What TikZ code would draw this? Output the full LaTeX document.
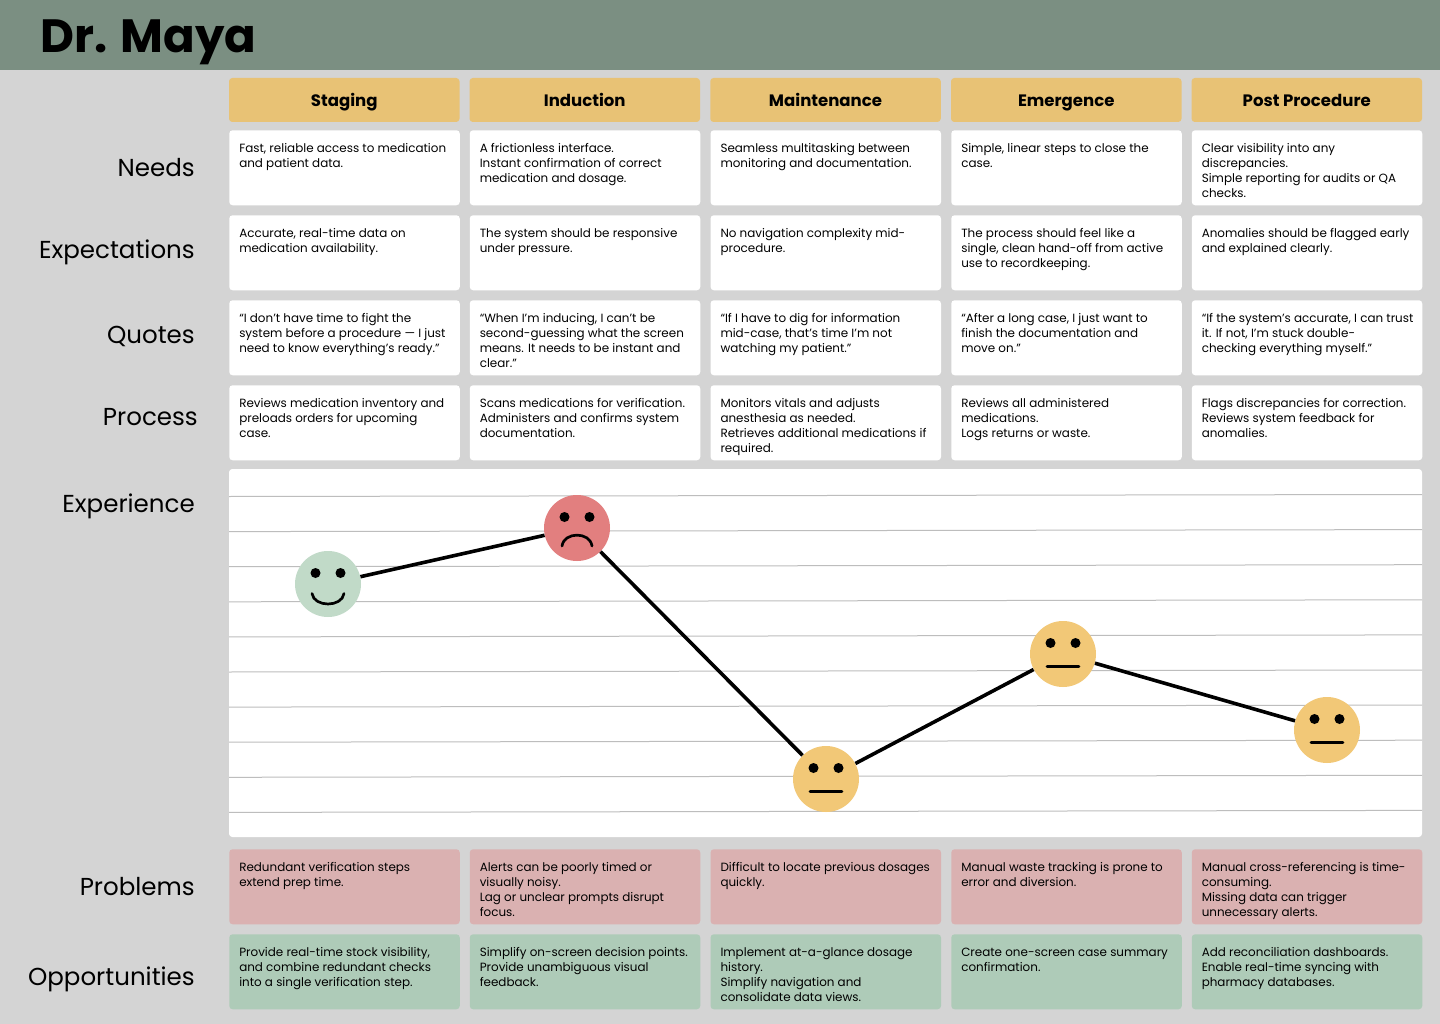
\documentclass[tikz,border=0pt]{standalone}
\usepackage{fontspec}
\setmainfont{Poppins}
\usetikzlibrary{positioning}
\definecolor{cPage}   {HTML}{D4D4D4}
\definecolor{cBand}   {HTML}{7B8F82}
\definecolor{cPhase}  {HTML}{E8C275}
\definecolor{cProblem}{HTML}{DAB1B1}
\definecolor{cChance} {HTML}{AECBB8}
\definecolor{cGrid}   {HTML}{BDBDBD}
\definecolor{cHappy}  {HTML}{C1DAC8}
\definecolor{cSad}    {HTML}{E27F7F}
\definecolor{cFlat}   {HTML}{F2C877}
\newcommand{\celltext}[1]{\begin{minipage}[c][56.25pt][t]{172.875pt}\raggedright\leftskip=7.5pt\rule{0pt}{16.5pt}#1\end{minipage}}
\tikzset{
  phase/.style={fill=cPhase, rounded corners=2.5pt, inner sep=0pt, minimum width=172.875pt,
                minimum height=33pt, font=\fontsize{12.4}{14}\selectfont\bfseries,
                text height=12pt, text depth=2.5pt},
  cell/.style={fill=white, rounded corners=2.5pt, inner sep=0pt, anchor=north west,
               font=\fontsize{8.95}{11.25}\selectfont},
  problem/.style={cell, fill=cProblem},
  chance/.style={cell, fill=cChance},
  rowlabel/.style={anchor=base east, inner sep=0pt, font=\fontsize{18.4}{22}\selectfont},
  face/.style={circle, minimum size=49.5pt, inner sep=0pt},
  eye/.style={fill=black},
  mouth/.style={draw=black, line width=2pt, line cap=round},
  walk/.style={draw=black, line width=2.7pt},
}
\newcommand{\faceeyes}[1]{%
  \fill[eye] (#1.center) ++(-12.5,-11) circle[radius=3.75pt];
  \fill[eye] (#1.center) ++(12.5,-11) circle[radius=3.75pt];}
\newcommand{\faceflat}[1]{%
  \faceeyes{#1}
  \draw[mouth] (#1.center) ++(-16,12.5) -- ++(32,0);}
\begin{document}
\begin{tikzpicture}[x=0.75pt, y=-0.75pt]
  \useasboundingbox (0,0) rectangle (1440,1024);
  \fill[cPage] (0,0) rectangle (1440,1024);
  \fill[cBand] (0,0) rectangle (1440,70);
  \node[anchor=base west, inner sep=0pt, font=\fontsize{35}{40}\selectfont\bfseries] (title) at (40,53) {Dr. Maya};

  % phases
  \node[phase] (phStaging)  at (344.25,100)  {Staging};
  \node[phase] (phInduct)   at (584.75,100)  {Induction};
  \node[phase] (phMaint)    at (825.5,100)   {Maintenance};
  \node[phase] (phEmerge)   at (1066.25,100) {Emergence};
  \node[phase] (phPost)     at (1306.75,100) {Post Procedure};

  % row labels
  \node[rowlabel] (lbNeeds)   at (195,176) {Needs};
  \node[rowlabel] (lbExpect)  at (195,258) {Expectations};
  \node[rowlabel] (lbQuotes)  at (195,343) {Quotes};
  \node[rowlabel] (lbProcess) at (198,425) {Process};
  \node[rowlabel] (lbExper)   at (195,512) {Experience};
  \node[rowlabel] (lbProblem) at (195,895) {Problems};
  \node[rowlabel] (lbChance)  at (195,985) {Opportunities};

  % needs
  \node[cell] (needStaging) at (229,130) {\celltext{Fast, reliable access to medication\\and patient data.}};
  \node[cell] (needInduct)  at (469.5,130) {\celltext{A frictionless interface.\\Instant confirmation of correct\\medication and dosage.}};
  \node[cell] (needMaint)   at (710.25,130) {\celltext{Seamless multitasking between\\monitoring and documentation.}};
  \node[cell] (needEmerge)  at (951,130) {\celltext{Simple, linear steps to close the\\case.}};
  \node[cell] (needPost)    at (1191.5,130) {\celltext{Clear visibility into any\\discrepancies.\\Simple reporting for audits or QA\\checks.}};

  % expectations
  \node[cell] (expStaging) at (229,215) {\celltext{Accurate, real-time data on\\medication availability.}};
  \node[cell] (expInduct)  at (469.5,215) {\celltext{The system should be responsive\\under pressure.}};
  \node[cell] (expMaint)   at (710.25,215) {\celltext{No navigation complexity mid-\\procedure.}};
  \node[cell] (expEmerge)  at (951,215) {\celltext{The process should feel like a\\single, clean hand-off from active\\use to recordkeeping.}};
  \node[cell] (expPost)    at (1191.5,215) {\celltext{Anomalies should be flagged early\\and explained clearly.}};

  % quotes
  \node[cell] (quoStaging) at (229,300) {\celltext{“I don’t have time to fight the\\system before a procedure — I just\\need to know everything’s ready.”}};
  \node[cell] (quoInduct)  at (469.5,300) {\celltext{“When I’m inducing, I can’t be\\second-guessing what the screen\\means. It needs to be instant and\\clear.”}};
  \node[cell] (quoMaint)   at (710.25,300) {\celltext{“If I have to dig for information\\mid-case, that’s time I’m not\\watching my patient.”}};
  \node[cell] (quoEmerge)  at (951,300) {\celltext{“After a long case, I just want to\\finish the documentation and\\move on.”}};
  \node[cell] (quoPost)    at (1191.5,300) {\celltext{“If the system’s accurate, I can trust\\it. If not, I’m stuck double-\\checking everything myself.”}};

  % process
  \node[cell] (proStaging) at (229,385) {\celltext{Reviews medication inventory and\\preloads orders for upcoming\\case.}};
  \node[cell] (proInduct)  at (469.5,385) {\celltext{Scans medications for verification.\\Administers and confirms system\\documentation.}};
  \node[cell] (proMaint)   at (710.25,385) {\celltext{Monitors vitals and adjusts\\anesthesia as needed.\\Retrieves additional medications if\\required.}};
  \node[cell] (proEmerge)  at (951,385) {\celltext{Reviews all administered\\medications.\\Logs returns or waste.}};
  \node[cell] (proPost)    at (1191.5,385) {\celltext{Flags discrepancies for correction.\\Reviews system feedback for\\anomalies.}};

  % experience chart
  \fill[white, rounded corners=2.5pt] (229,469) rectangle (1422,837);
  \foreach \y in {0,...,9}
    \draw[cGrid, line width=0.75pt] (229,496.5+35.1*\y) -- (1422,494.5+35.1*\y);

  \node[face, fill=cHappy] (fcStaging) at (328,584) {};
  \node[face, fill=cSad]   (fcInduct)  at (577,528) {};
  \node[face, fill=cFlat]  (fcMaint)   at (826,779) {};
  \node[face, fill=cFlat]  (fcEmerge)  at (1063,654) {};
  \node[face, fill=cFlat]  (fcPost)    at (1327,730) {};
  \draw[walk] (fcStaging) -- (fcInduct);
  \draw[walk] (fcInduct) -- (fcMaint);
  \draw[walk] (fcMaint) -- (fcEmerge);
  \draw[walk] (fcEmerge) -- (fcPost);

  \faceeyes{fcStaging}
  \draw[mouth] (fcStaging.center) ++(-16,9.5) .. controls +(2,14) and +(-2,14) .. +(32,0);
  \faceeyes{fcInduct}
  \draw[mouth] (fcInduct.center) ++(-15,18) .. controls +(2,-14.5) and +(-2,-14.5) .. +(30,0);
  \faceflat{fcMaint}
  \faceflat{fcEmerge}
  \faceflat{fcPost}

  % problems
  \node[problem] (pbStaging) at (229,849) {\celltext{Redundant verification steps\\extend prep time.}};
  \node[problem] (pbInduct)  at (469.5,849) {\celltext{Alerts can be poorly timed or\\visually noisy.\\Lag or unclear prompts disrupt\\focus.}};
  \node[problem] (pbMaint)   at (710.25,849) {\celltext{Difficult to locate previous dosages\\quickly.}};
  \node[problem] (pbEmerge)  at (951,849) {\celltext{Manual waste tracking is prone to\\error and diversion.}};
  \node[problem] (pbPost)    at (1191.5,849) {\celltext{Manual cross-referencing is time-\\consuming.\\Missing data can trigger\\unnecessary alerts.}};

  % opportunities
  \node[chance] (opStaging) at (229,934) {\celltext{Provide real-time stock visibility,\\and combine redundant checks\\into a single verification step.}};
  \node[chance] (opInduct)  at (469.5,934) {\celltext{Simplify on-screen decision points.\\Provide unambiguous visual\\feedback.}};
  \node[chance] (opMaint)   at (710.25,934) {\celltext{Implement at-a-glance dosage\\history.\\Simplify navigation and\\consolidate data views.}};
  \node[chance] (opEmerge)  at (951,934) {\celltext{Create one-screen case summary\\confirmation.}};
  \node[chance] (opPost)    at (1191.5,934) {\celltext{Add reconciliation dashboards.\\Enable real-time syncing with\\pharmacy databases.}};
\end{tikzpicture}
\end{document}
